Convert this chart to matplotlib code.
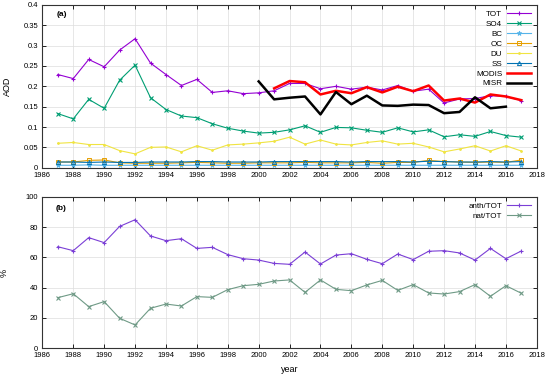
import matplotlib
matplotlib.use("Agg")
import matplotlib.pyplot as plt
import numpy as np

plt.rcParams['font.family'] = ['Liberation Sans', 'DejaVu Sans']

years = list(range(1987, 2018))
tot = [0.229, 0.219, 0.266, 0.248, 0.289, 0.317, 0.257, 0.229, 0.202, 0.217,
       0.185, 0.189, 0.182, 0.184, 0.189, 0.207, 0.207, 0.194, 0.200, 0.193,
       0.198, 0.191, 0.202, 0.188, 0.193, 0.159, 0.169, 0.170, 0.177, 0.175, 0.165]
so4 = [0.133, 0.120, 0.168, 0.146, 0.215, 0.252, 0.172, 0.143, 0.127, 0.123,
       0.108, 0.097, 0.090, 0.085, 0.087, 0.093, 0.103, 0.087, 0.099, 0.098,
       0.092, 0.087, 0.098, 0.088, 0.093, 0.076, 0.081, 0.077, 0.089, 0.079, 0.075]
bc = [0.006, 0.006, 0.007, 0.006, 0.006, 0.006, 0.006, 0.006, 0.006, 0.006,
      0.006, 0.006, 0.006, 0.006, 0.006, 0.006, 0.006, 0.006, 0.006, 0.006,
      0.006, 0.006, 0.006, 0.006, 0.006, 0.006, 0.006, 0.006, 0.006, 0.006, 0.006]
oc = [0.014, 0.014, 0.018, 0.019, 0.012, 0.011, 0.011, 0.011, 0.012, 0.013,
      0.012, 0.011, 0.011, 0.012, 0.012, 0.012, 0.013, 0.012, 0.012, 0.012,
      0.013, 0.011, 0.013, 0.013, 0.018, 0.015, 0.014, 0.013, 0.014, 0.013, 0.019]
du = [0.060, 0.062, 0.057, 0.057, 0.042, 0.034, 0.050, 0.051, 0.039, 0.054,
      0.043, 0.056, 0.058, 0.061, 0.065, 0.075, 0.058, 0.068, 0.058, 0.056,
      0.062, 0.066, 0.058, 0.060, 0.051, 0.039, 0.046, 0.054, 0.041, 0.054, 0.041]
ss = [0.014, 0.014, 0.013, 0.014, 0.013, 0.013, 0.014, 0.014, 0.014, 0.015,
      0.015, 0.014, 0.014, 0.014, 0.015, 0.015, 0.015, 0.015, 0.015, 0.014,
      0.015, 0.015, 0.015, 0.014, 0.016, 0.015, 0.014, 0.014, 0.015, 0.014, 0.015]

modis_years = list(range(2001, 2018))
modis = [0.195, 0.213, 0.210, 0.180, 0.189, 0.183, 0.198, 0.185, 0.199, 0.188,
         0.202, 0.165, 0.170, 0.160, 0.180, 0.175, 0.166]
misr_years = list(range(2000, 2017))
misr = [0.212, 0.168, 0.172, 0.175, 0.131, 0.186, 0.156, 0.177, 0.153, 0.152,
        0.155, 0.154, 0.134, 0.137, 0.173, 0.146, 0.150]

anth = [67.0, 64.4, 73.0, 69.7, 80.4, 84.8, 74.1, 71.0, 72.3, 65.9,
        66.6, 61.8, 59.1, 58.2, 56.0, 55.4, 63.5, 55.6, 61.5, 62.4,
        58.7, 55.8, 62.2, 58.5, 64.0, 64.4, 62.9, 58.2, 65.9, 59.1, 64.2]
nat = [33.4, 36.0, 27.5, 30.8, 19.8, 15.4, 26.4, 29.2, 27.9, 34.1,
       33.6, 38.7, 41.3, 42.2, 44.4, 45.1, 36.9, 45.1, 38.9, 38.0,
       41.8, 44.8, 38.2, 42.0, 36.5, 35.8, 37.4, 42.0, 34.3, 41.3, 36.3]

fig = plt.figure(figsize=(5.5, 3.79), dpi=100)
ax1 = fig.add_axes([0.077, 0.5575, 0.899, 0.4295])
ax2 = fig.add_axes([0.077, 0.081, 0.899, 0.400])

fs = 5.5
lw = 0.8
ms = 3.5
ax1.plot(years, tot, color='#9400d3', lw=lw, marker='+', ms=ms, mew=0.8, label='TOT')
ax1.plot(years, so4, color='#009e73', lw=lw, marker='x', ms=ms-0.5, mew=0.8, label='SO4')
ax1.plot(years, bc, color='#56b4e9', lw=lw, marker='*', ms=ms, mew=0.6, label='BC')
ax1.plot(years, oc, color='#e69f00', lw=lw, marker='s', ms=ms-0.5, mfc='none', mew=0.7, label='OC')
ax1.plot(years, du, color='#f0e442', lw=lw, marker='.', ms=ms-1, mew=0.7, label='DU')
ax1.plot(years, ss, color='#0072b2', lw=lw, marker='^', ms=ms-0.5, mfc='none', mew=0.7, label='SS')
ax1.plot(modis_years, modis, color='#ff0000', lw=1.8, label='MODIS')
ax1.plot(misr_years, misr, color='#000000', lw=1.8, label='MISR')

ax2.plot(years, anth, color='#7b3fd6', lw=lw, marker='+', ms=ms, mew=0.8, label='anth/TOT')
ax2.plot(years, nat, color='#6f9a86', lw=lw, marker='x', ms=ms-0.5, mew=0.8, label='nat/TOT')

for ax in (ax1, ax2):
    ax.set_xlim(1986, 2018)
    ax.set_xticks(range(1986, 2019, 2))
    ax.grid(True, color='#dddddd', lw=0.5)
    ax.set_axisbelow(True)
    ax.tick_params(direction='in', labelsize=fs, length=3, width=0.6,
                   top=True, right=True, pad=3)
    for s in ax.spines.values():
        s.set_linewidth(0.8)
        s.set_color('#333333')

ax1.set_ylim(0, 0.4)
ax1.set_yticks(np.arange(0, 0.401, 0.05))
ax1.set_yticklabels(['0', '0.05', '0.1', '0.15', '0.2', '0.25', '0.3', '0.35', '0.4'])
ax2.set_ylim(0, 100)
ax2.set_yticks(range(0, 101, 20))
ax2.set_yticklabels(['0', '20', '40', '60', '80', '100'])
ax2.set_xticklabels([str(y) for y in range(1986, 2019, 2)])
ax1.set_xticklabels([str(y) for y in range(1986, 2019, 2)])

ax1.set_ylabel('AOD', fontsize=6.5)
ax1.yaxis.set_label_coords(-0.062, 0.5)
ax2.set_ylabel('%', fontsize=6.5)
ax2.yaxis.set_label_coords(-0.069, 0.5)
ax2.set_xlabel('year', fontsize=6.5, labelpad=4)

ax1.text(0.028, 0.935, '(a)', transform=ax1.transAxes, fontsize=6, fontweight='bold')
ax2.text(0.026, 0.915, '(b)', transform=ax2.transAxes, fontsize=6, fontweight='bold')

ax1.legend(loc='upper right', fontsize=5.8, frameon=False, markerfirst=False,
           handlelength=3.0, labelspacing=0.28, borderaxespad=0.3, handletextpad=0.6,
           alignment='right')
ax2.legend(loc='upper right', fontsize=5.8, frameon=False, markerfirst=False,
           handlelength=3.0, labelspacing=0.28, borderaxespad=0.3, handletextpad=0.6,
           alignment='right')

fig.savefig('out.png', dpi=100)
